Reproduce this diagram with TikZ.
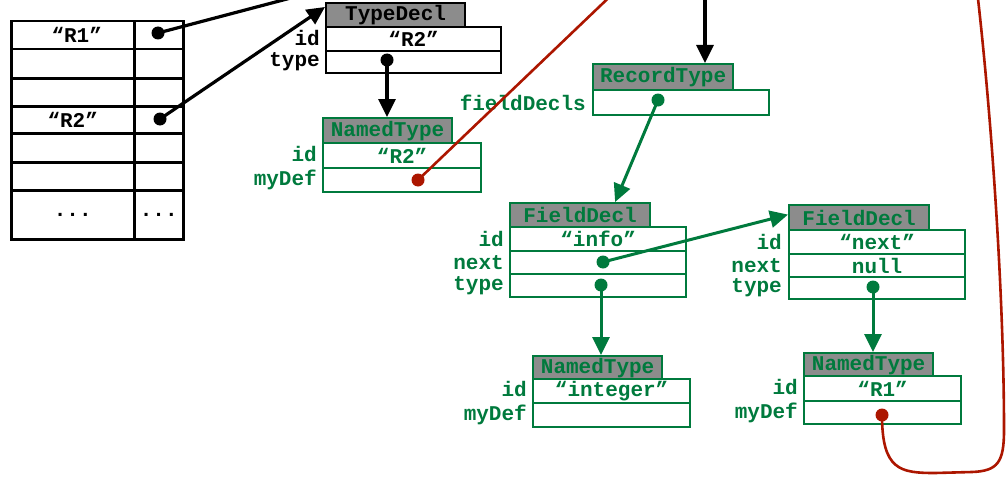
\documentclass[tikz,border=0pt]{standalone}
\usepackage{fontspec}
\setmonofont{Liberation Mono}
\usetikzlibrary{arrows.meta}
\definecolor{gr}{RGB}{0,122,61}
\definecolor{hg}{RGB}{140,140,140}
\definecolor{rd}{RGB}{172,22,0}
\begin{document}
\begin{tikzpicture}[x=1pt,y=-1pt,
 every node/.style={font=\fontsize{21}{24}\selectfont\ttfamily\bfseries},
 hdr/.style={draw, fill=hg, anchor=north west, inner sep=0, line width=2.2},
 cell/.style={draw, anchor=north west, inner sep=0, line width=2.2},
 tc/.style={draw, anchor=north west, inner sep=0, line width=2.5},
 lbl/.style={anchor=east, inner sep=0},
 gbox/.style={draw=gr, text=gr},
 pt/.style={circle, fill, inner sep=0, minimum size=13},
 ptr/.style={line width=3.2, -{Triangle[length=18pt,width=17pt]}},
 gptr/.style={line width=3, draw=gr, fill=gr, -{Triangle[length=18pt,width=17pt]}},
 rptr/.style={line width=2.6, draw=rd},
]
\useasboundingbox (0,0) rectangle (1008,487);

% symbol table
\node[tc, minimum width=123, minimum height=28] (ta1) at (10,20) {\hspace{8pt}“R1”};
\node[tc, minimum width=49, minimum height=28] (tb1) at (133,20) {};
\node[tc, minimum width=123, minimum height=29] (ta2) at (10,48) {};
\node[tc, minimum width=49, minimum height=29] (tb2) at (133,48) {};
\node[tc, minimum width=123, minimum height=28] (ta3) at (10,77) {};
\node[tc, minimum width=49, minimum height=28] (tb3) at (133,77) {};
\node[tc, minimum width=123, minimum height=27] (ta4) at (10,105) {“R2”};
\node[tc, minimum width=49, minimum height=27] (tb4) at (133,105) {};
\node[tc, minimum width=123, minimum height=29] (ta5) at (10,132) {};
\node[tc, minimum width=49, minimum height=29] (tb5) at (133,132) {};
\node[tc, minimum width=123, minimum height=28] (ta6) at (10,161) {};
\node[tc, minimum width=49, minimum height=28] (tb6) at (133,161) {};
\node[tc, minimum width=123, minimum height=49] (ta7) at (10,189) {\raisebox{-4pt}{...}};
\node[tc, minimum width=49, minimum height=49] (tb7) at (133,189) {\raisebox{-4pt}{...}};
\node[pt] (d1) at (158,33) {};
\node[pt] (d2) at (160,119) {};

% TypeDecl
\node[hdr, minimum width=139, minimum height=24] (tdh) at (325,2) {TypeDecl};
\node[cell, minimum width=175, minimum height=24] (tdid) at (325,26) {“R2”};
\node[cell, minimum width=175, minimum height=22] (tdty) at (325,50) {};
\node[lbl] (tdl1) at ([xshift=-5pt,yshift=1pt]tdid.west) {id};
\node[lbl] (tdl2) at ([xshift=-5pt]tdty.west) {type};
\node[pt] (tdd) at (387,60) {};

% NamedType R2
\node[hdr, gbox, minimum width=129, minimum height=25] (n1h) at (322,117) {NamedType};
\node[cell, gbox, minimum width=158, minimum height=25] (n1id) at (322,142) {“R2”};
\node[cell, gbox, minimum width=158, minimum height=24] (n1df) at (322,167) {};
\node[lbl, text=gr] (n1l1) at ([xshift=-5pt,yshift=2pt]n1id.west) {id};
\node[lbl, text=gr] (n1l2) at ([xshift=-5pt]n1df.west) {myDef};
\node[pt, fill=rd] (n1d) at (418,180) {};

% RecordType
\node[hdr, gbox, minimum width=140, minimum height=26] (rth) at (592,63) {RecordType};
\node[cell, gbox, minimum width=176, minimum height=25] (rtf) at (592,89) {};
\node[lbl, text=gr] (rtl) at ([xshift=-6pt]rtf.west) {fieldDecls};
\node[pt, fill=gr] (rtd) at (658,100) {};

% FieldDecl info
\node[hdr, gbox, minimum width=140, minimum height=24] (f1h) at (509,202) {FieldDecl};
\node[cell, gbox, minimum width=176, minimum height=24] (f1id) at (509,226) {“info”};
\node[cell, gbox, minimum width=176, minimum height=23] (f1nx) at (509,250) {};
\node[cell, gbox, minimum width=176, minimum height=23] (f1ty) at (509,273) {};
\node[lbl, text=gr] (f1l1) at ([xshift=-5pt]f1id.west) {id};
\node[lbl, text=gr] (f1l2) at ([xshift=-5pt]f1nx.west) {next};
\node[lbl, text=gr] (f1l3) at ([xshift=-5pt]f1ty.west) {type};
\node[pt, fill=gr] (f1dn) at (603,262) {};
\node[pt, fill=gr] (f1dt) at (601,285) {};

% NamedType integer
\node[hdr, gbox, minimum width=129, minimum height=23] (n2h) at (532,355) {NamedType};
\node[cell, gbox, minimum width=157, minimum height=24] (n2id) at (532,378) {“integer”};
\node[cell, gbox, minimum width=157, minimum height=24] (n2df) at (532,402) {};
\node[lbl, text=gr] (n2l1) at ([xshift=-5pt,yshift=2pt]n2id.west) {id};
\node[lbl, text=gr] (n2l2) at ([xshift=-5pt]n2df.west) {myDef};

% FieldDecl next
\node[hdr, gbox, minimum width=140, minimum height=25] (f2h) at (788,204) {FieldDecl};
\node[cell, gbox, minimum width=176, minimum height=24] (f2id) at (788,229) {“next”};
\node[cell, gbox, minimum width=176, minimum height=23] (f2nx) at (788,253) {null};
\node[cell, gbox, minimum width=176, minimum height=22] (f2ty) at (788,276) {};
\node[lbl, text=gr] (f2l1) at ([xshift=-6pt]f2id.west) {id};
\node[lbl, text=gr] (f2l2) at ([xshift=-6pt]f2nx.west) {next};
\node[lbl, text=gr] (f2l3) at ([xshift=-6pt]f2ty.west) {type};
\node[pt, fill=gr] (f2dt) at (873,287) {};

% NamedType R1
\node[hdr, gbox, minimum width=129, minimum height=23] (n3h) at (803,352) {NamedType};
\node[cell, gbox, minimum width=157, minimum height=25] (n3id) at (803,375) {“R1”};
\node[cell, gbox, minimum width=157, minimum height=23] (n3df) at (803,400) {};
\node[lbl, text=gr] (n3l1) at ([xshift=-5pt,yshift=2pt]n3id.west) {id};
\node[lbl, text=gr] (n3l2) at ([xshift=-5pt]n3df.west) {myDef};
\node[pt, fill=rd] (n3d) at (882,415) {};

% off-picture ends
\coordinate (offA) at (340,-15);
\coordinate (offB) at (705,-10);
\coordinate (offR) at (622,-15);
\coordinate (offC) at (977,-10);

% connectors
\draw[line width=3.2] (d1.center) -- (offA);
\draw[ptr] (d2.center) -- ([yshift=-5pt]tdh.north west);
\draw[ptr] (tdd.center) -- (tdd.center |- n1h.north);
\draw[ptr] (offB) -- (offB |- rth.north);
\draw[rptr] (n1d.center) -- (offR);
\draw[gptr] (rtd.center) -- ([xshift=35pt]f1h.north);
\draw[gptr] (f1dn.center) -- ([yshift=3pt]f2h.west);
\draw[gptr] (f1dt.center) -- (f1dt.center |- n2h.north);
\draw[gptr] (f2dt.center) -- (f2dt.center |- n3h.north);
\draw[rptr] (n3d.center) .. controls (882,470) and (900,473) .. (935,473)
  -- (972,472) .. controls (998,471) and (1004,462) .. (1004,430)
  .. controls (1004,300) and (992,120) .. (offC);
\end{tikzpicture}
\end{document}
